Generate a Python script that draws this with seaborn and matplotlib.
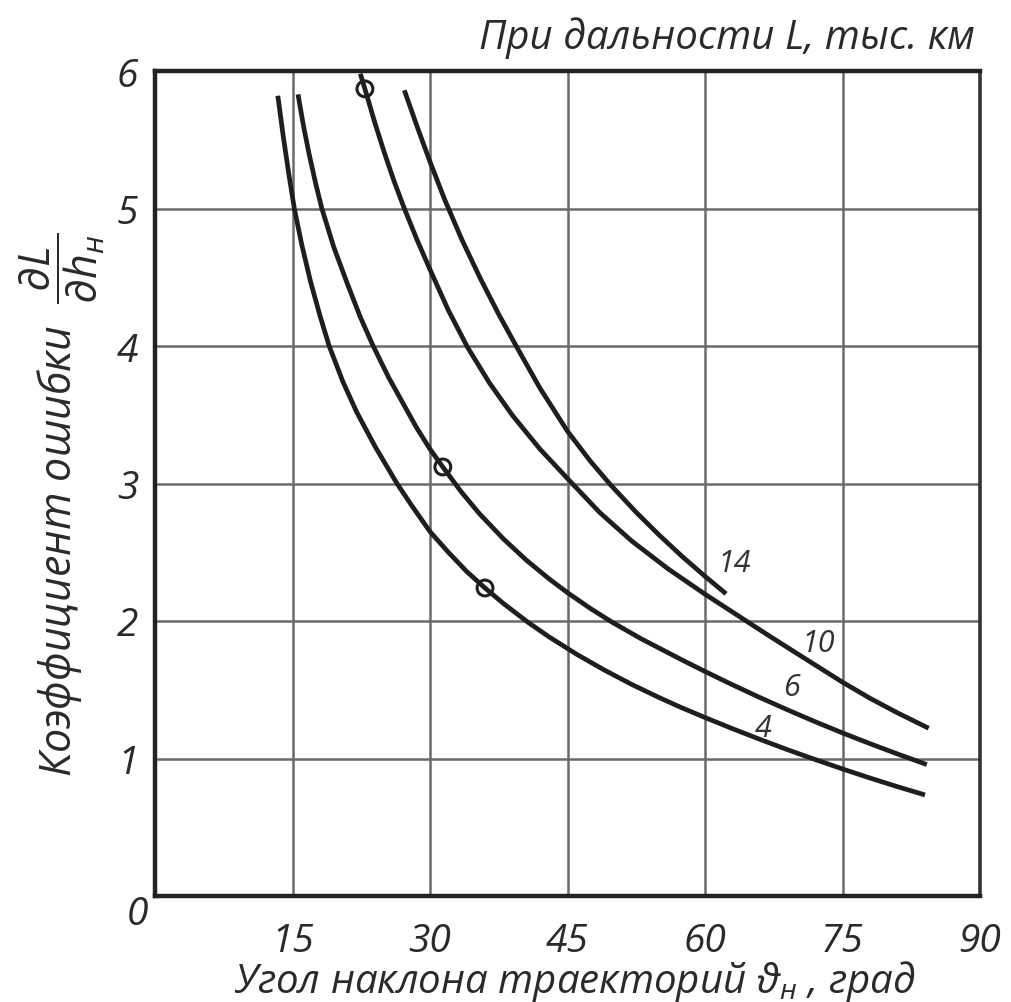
import numpy as np
import pandas as pd
import seaborn as sns
import matplotlib.pyplot as plt

# curves: angle (deg) vs error coefficient, per range L (thousand km)
angle_4 = [13.4, 14.0, 14.6, 15.2, 16.0, 17.0, 18.0, 19.0, 20.5, 22.0, 24.0, 26.4, 28.0, 30.0,
           32.0, 34.0, 36.0, 38.0, 40.7, 43.0, 46.0, 49.0, 52.0, 55.0, 57.4, 60.0, 63.0, 66.0,
           69.0, 71.1, 75.0, 78.0, 81.0, 84.0]
coef_4 = [5.82, 5.52, 5.25, 5.00, 4.74, 4.46, 4.22, 4.00, 3.74, 3.52, 3.27, 3.00, 2.84, 2.65,
          2.50, 2.36, 2.24, 2.128, 1.99, 1.884, 1.758, 1.644, 1.539, 1.443, 1.371, 1.298, 1.217,
          1.139, 1.064, 1.014, 0.924, 0.858, 0.795, 0.735]

angle_6 = [15.6, 16.2, 16.8, 17.5, 18.2, 19.5, 21.0, 22.4, 23.8, 25.5, 27.0, 28.5, 30.0, 31.4,
           33.4, 35.4, 38.0, 40.5, 43.0, 45.0, 47.5, 49.9, 53.0, 57.4, 60.0, 63.0, 66.0, 69.0,
           72.0, 75.0, 78.0, 81.0, 84.2]
coef_6 = [5.83, 5.60, 5.40, 5.19, 5.00, 4.72, 4.45, 4.21, 4.00, 3.77, 3.59, 3.41, 3.25, 3.12,
          2.94, 2.78, 2.598, 2.443, 2.306, 2.206, 2.091, 1.99, 1.872, 1.72, 1.633, 1.536, 1.443,
          1.354, 1.268, 1.186, 1.108, 1.033, 0.956]

angle_10 = [22.4, 22.9, 24.0, 25.0, 26.1, 27.2, 28.6, 30.0, 32.0, 34.1, 36.5, 39.0, 42.0, 45.2,
            48.5, 52.0, 56.0, 60.0, 64.5, 67.0, 70.0, 72.5, 75.0, 78.0, 81.0, 84.4]
coef_10 = [5.98, 5.87, 5.62, 5.41, 5.195, 5.00, 4.77, 4.556, 4.26, 3.99, 3.73, 3.495, 3.25,
           3.022, 2.79, 2.582, 2.378, 2.195, 2.00, 1.892, 1.765, 1.66, 1.555, 1.438, 1.332, 1.22]

angle_14 = [27.2, 28.6, 30.0, 31.6, 33.5, 35.5, 37.5, 39.4, 42.0, 45.0, 47.5, 49.7, 52.5, 55.0,
            57.5, 60.0, 62.3]
coef_14 = [5.86, 5.595, 5.34, 5.065, 4.77, 4.49, 4.23, 4.00, 3.693, 3.38, 3.162, 2.99, 2.79,
           2.625, 2.47, 2.325, 2.198]

curve_names = ['4', '6', '10', '14']

# small circles on the curves
mark_angle = [22.9, 31.4, 36.0]
mark_coef = [5.87, 3.12, 2.24]

x_ticks = [0, 15, 30, 45, 60, 75, 90]
y_ticks = [0, 1, 2, 3, 4, 5, 6]

frames = []
for name, xs, ys in zip(curve_names, [angle_4, angle_6, angle_10, angle_14],
                        [coef_4, coef_6, coef_10, coef_14]):
    frames.append(pd.DataFrame({'angle': xs, 'coef': ys, 'L': name}))
df = pd.concat(frames, ignore_index=True)

sns.set_style('white')
fnt = 'Open Sans'
plt.rcParams['font.family'] = [fnt, 'DejaVu Sans']
plt.rcParams['mathtext.fontset'] = 'custom'
plt.rcParams['mathtext.it'] = fnt + ':italic'
plt.rcParams['mathtext.rm'] = fnt + ':italic'

fig = plt.figure(figsize=(10.11, 10.03), dpi=100)
ax = fig.add_axes([155 / 1011, 1 - 897 / 1003, 825 / 1011, 825 / 1003])

ink = '#2a2a2a'
sns.lineplot(data=df, x='angle', y='coef', units='L', estimator=None, sort=False,
             color='#1e1e1e', lw=3.4, ax=ax, solid_capstyle='butt', zorder=3)
sns.scatterplot(x=mark_angle, y=mark_coef, ax=ax, s=130, facecolor='none',
                edgecolor='#1e1e1e', linewidth=2.2, zorder=4)

ax.set_xlim(0, 90)
ax.set_ylim(0, 6)
ax.set_xticks(x_ticks)
ax.set_yticks(y_ticks)
ax.set_xticklabels([''] + [str(v) for v in x_ticks[1:]])
ax.set_yticklabels([''] + [str(v) for v in y_ticks[1:]])
ax.tick_params(length=0, labelsize=28, colors=ink)
ax.tick_params(axis='x', pad=19)
ax.tick_params(axis='y', pad=12)
for lab in ax.get_xticklabels() + ax.get_yticklabels():
    lab.set_fontstyle('italic')
fig.text(137 / 1011, 1 - 915 / 1003, '0', fontsize=28, style='italic', color=ink,
         ha='center', va='center')

ax.grid(True, color='#6a6a6a', lw=1.8)
for side in ['left', 'bottom', 'top']:
    ax.spines[side].set_linewidth(3.2)
    ax.spines[side].set_color('#222222')
ax.spines['right'].set_linewidth(2.6)
ax.spines['right'].set_color('#333333')
ax.set_xlabel('')
ax.set_ylabel('')

# curve labels
label_pos = [(66.3, 1.22), (69.4, 1.52), (72.4, 1.84), (63.2, 2.42)]
for name, (lx, ly) in zip(curve_names, label_pos):
    ax.text(lx, ly, name, fontsize=22, style='italic', color='#333333',
            ha='center', va='center', zorder=5)

fig.text(975 / 1011, 1 - 38 / 1003, 'При дальности L, тыс. км', fontsize=29,
         style='italic', color=ink, ha='right', va='center')
fig.text(575 / 1011, 1 - 982 / 1003, 'Угол наклона траекторий ϑ$_н$ , град',
         fontsize=29, style='italic', color=ink, ha='center', va='center')
fig.text(62 / 1011, 1 - 505 / 1003,
         r'Коэффициент ошибки  $\dfrac{\partial L}{\partial h_{н}}$',
         fontsize=31, style='italic', color=ink, ha='center', va='center',
         rotation=90)

fig.savefig('out.png', dpi=100)
